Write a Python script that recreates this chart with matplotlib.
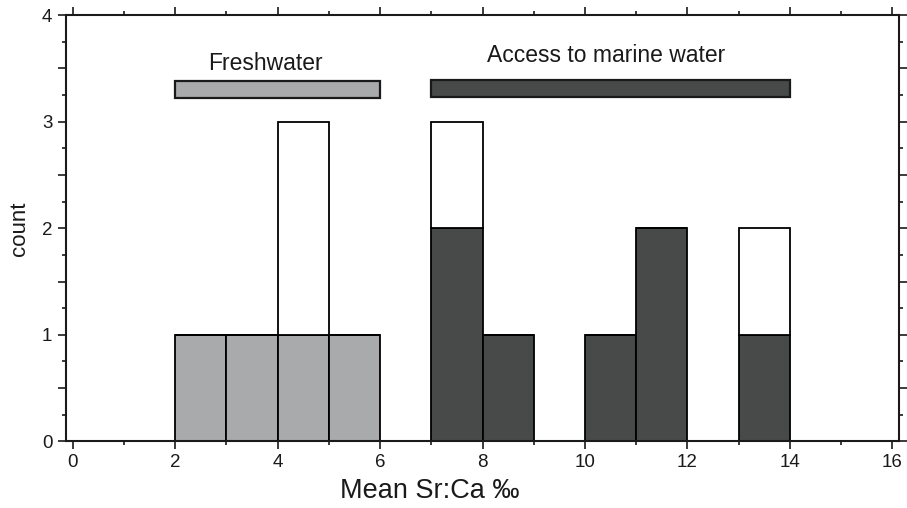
import numpy as np
import matplotlib.pyplot as plt
from matplotlib.ticker import MultipleLocator, FuncFormatter

plt.rcParams['font.family'] = ['Liberation Sans', 'DejaVu Sans']

# histogram bins (left edges, width 1)
bin_left = np.arange(0, 16)
fresh_counts = [0, 0, 1, 1, 1, 1, 0, 0, 0, 0, 0, 0, 0, 0, 0, 0]
marine_counts = [0, 0, 0, 0, 0, 0, 0, 2, 1, 0, 1, 2, 0, 1, 0, 0]
other_counts = [0, 0, 0, 0, 2, 0, 0, 1, 0, 0, 0, 0, 0, 1, 0, 0]

# range bars above the histogram
group_names = ["Freshwater", "Access to marine water"]
group_start = [2, 7]
group_end = [6, 14]

gray = "#a9aaab"
dark = "#484a49"

fig = plt.figure(figsize=(9.07, 5.08), dpi=100)
ax = fig.add_subplot(111)
fig.subplots_adjust(left=0.0724, right=0.9912, top=0.970, bottom=0.1313)

base = np.array(fresh_counts) + np.array(marine_counts)
ax.bar(bin_left, fresh_counts, 1, align="edge", color=gray, edgecolor="black", linewidth=1.3, zorder=2, clip_on=False)
ax.bar(bin_left, marine_counts, 1, bottom=fresh_counts, align="edge", color=dark, edgecolor="black", linewidth=1.3, zorder=2, clip_on=False)
ax.bar(bin_left, other_counts, 1, bottom=base, align="edge", color="white", edgecolor="black", linewidth=1.3, zorder=2, clip_on=False)

# group bars + labels
bar_y = [3.22, 3.235]
label_y = [3.49, 3.56]
label_shift = [-0.24, -0.08]
colors = [gray, dark]
for i in range(len(group_names)):
	ax.bar(group_start[i], 0.16, group_end[i] - group_start[i], bottom=bar_y[i], align="edge",
		   color=colors[i], edgecolor="#1a1a1a", linewidth=1.6, zorder=2)
	ax.text((group_start[i] + group_end[i]) / 2.0 + label_shift[i], label_y[i], group_names[i],
			ha="center", va="baseline", fontsize=16.5, color="#1a1a1a")

ax.set_xlim(-0.14, 16.13)
ax.set_ylim(0, 4)

ax.xaxis.set_major_locator(MultipleLocator(2))
ax.xaxis.set_minor_locator(MultipleLocator(1))
ax.yaxis.set_major_locator(MultipleLocator(0.5))
ax.yaxis.set_minor_locator(MultipleLocator(0.25))
ax.yaxis.set_major_formatter(FuncFormatter(lambda v, p: "%d" % v if v == int(v) else ""))

ax.tick_params(which="both", direction="out", top=True, right=True, width=1.2, color="#1a1a1a")
ax.tick_params(which="major", length=5.5, labelsize=13.5, pad=4, labelcolor="#1a1a1a")
ax.tick_params(which="minor", length=3)
for s in ax.spines.values():
	s.set_linewidth(1.5)
	s.set_color("#1a1a1a")

ax.set_xlabel("Mean Sr:Ca \u2030", fontsize=19.5, color="#1a1a1a")
ax.xaxis.set_label_coords(0.437, -0.086)
ax.set_ylabel("count", fontsize=16, color="#1a1a1a")
ax.yaxis.set_label_coords(-0.043, 0.5)

plt.savefig("out.png", dpi=100)
